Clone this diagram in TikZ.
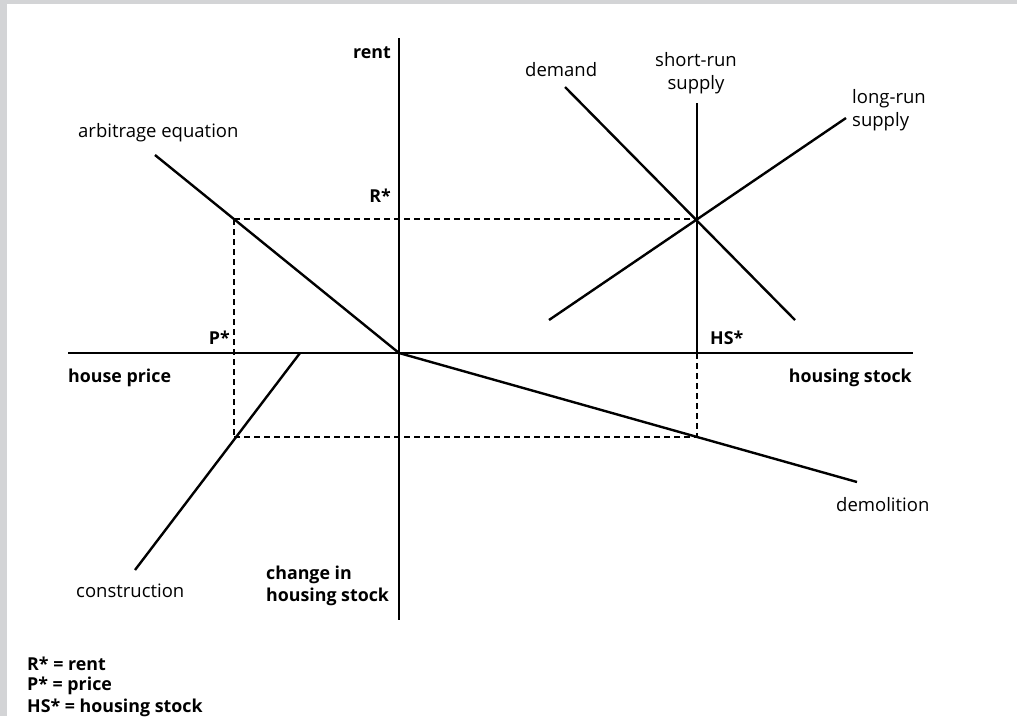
\documentclass[tikz,border=0pt]{standalone}
\usepackage{fontspec}
\setmainfont{Open Sans}
\definecolor{framegray}{HTML}{D3D4D6}
\tikzset{
  ln/.style={line width=2.4pt, line cap=butt},
  dsh/.style={line width=1.8pt, dash pattern=on 6pt off 4pt},
  lbl/.style={font=\fontsize{18.5}{23}\selectfont, inner sep=0pt, align=left},
  blbl/.style={lbl, font=\fontsize{17.8}{22}\selectfont\bfseries},
}
\begin{document}
\begin{tikzpicture}[x=1pt,y=-1pt]
\fill[framegray] (0,0) rectangle (1017,716);
\fill[white] (7,4) rectangle (1017,716);
\useasboundingbox (0,0) rectangle (1017,716);
% coordinates
\coordinate (O) at (399,353);
\coordinate (vtop) at (399,38);
\coordinate (vbot) at (399,620);
\coordinate (hleft) at (68,353);
\coordinate (hright) at (913,353);
\coordinate (arbA) at (155,155);
\coordinate (Pc) at (234,219);
\coordinate (E) at (697,219);
\coordinate (PHS) at (697,353);
\coordinate (Cq) at (234,437);
\coordinate (Dq) at (697,437);
\coordinate (srtop) at (697,103);
\coordinate (demA) at (565,87);
\coordinate (demB) at (795,320);
\coordinate (lrA) at (549,320);
\coordinate (lrB) at (846,118);
\coordinate (demoB) at (857,482);
\coordinate (conA) at (300,353);
\coordinate (conB) at (135,570);
% axes
\draw[ln] (vtop) -- (vbot);
\draw[ln] (hleft) -- (hright);
% dashed
\draw[dsh] (Pc) -- (E);
\draw[dsh] (Pc) -- (Cq);
\draw[dsh] (Cq) -- (Dq);
\draw[dsh] (PHS) -- (Dq);
% curves
\draw[ln] (arbA) -- (O);
\draw[ln] (srtop) -- (PHS);
\draw[ln] (demA) -- (demB);
\draw[ln] (lrA) -- (lrB);
\draw[ln] (O) -- (demoB);
\draw[ln] (conA) -- (conB);
% labels
\node[blbl, anchor=east] (rent) at (391,53) {rent};
\node[blbl, anchor=east] (Rs) at (391,196) {R*};
\node[blbl, anchor=east] (Ps) at (230,338) {P*};
\node[blbl, anchor=west] (HSs) at (710,338) {HS*};
\node[blbl, anchor=west] (hp) at (68,378) {house price};
\node[blbl, anchor=east] (hs) at (912,378) {housing stock};
\node[lbl, anchor=west] (arb) at (78,133) {arbitrage equation};
\node[lbl, anchor=west] (dem) at (525,70) {demand};
\node[lbl, align=center] (srs) at (696,73) {short-run\\supply};
\node[lbl, anchor=west] (lrs) at (852,110) {long-run\\supply};
\node[lbl, anchor=west] (demo) at (836,505) {demolition};
\node[lbl, anchor=west] (con) at (76,591) {construction};
\node[blbl, anchor=west] (chs) at (266,586) {change in\\housing stock};
\node[blbl, anchor=west] (leg1) at (27,664) {R* = rent};
\node[blbl, anchor=west] (leg2) at (27,686) {P* = price};
\node[blbl, anchor=west] (leg3) at (27,708) {HS* = housing stock};
\end{tikzpicture}
\end{document}
